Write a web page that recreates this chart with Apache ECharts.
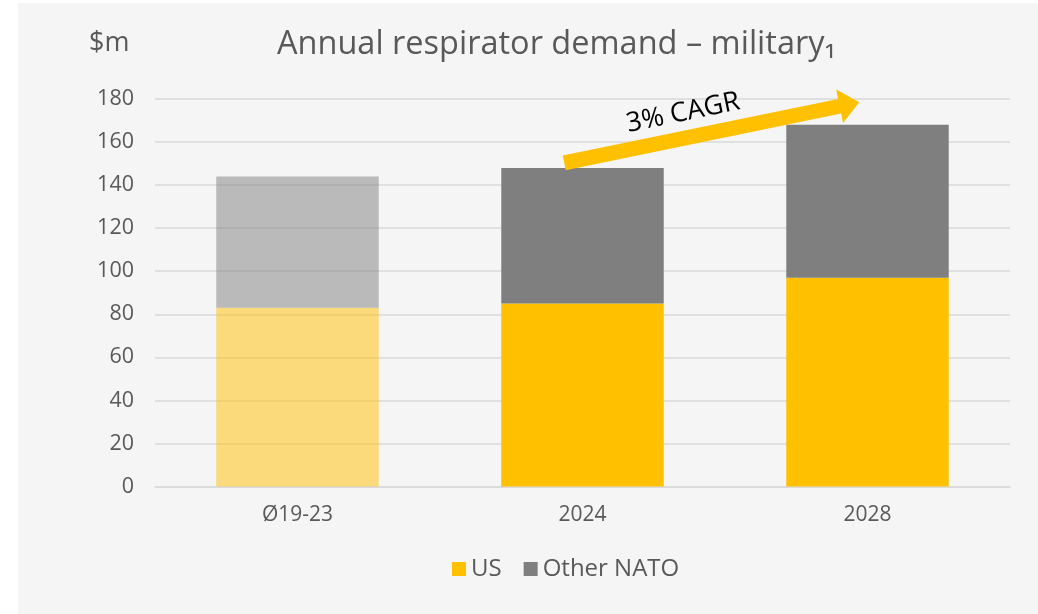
<!DOCTYPE html>
<html>
<head>
<meta charset="utf-8">
<script src="https://cdn.jsdelivr.net/npm/echarts@6/dist/echarts.min.js"></script>
<style>
  html, body { margin: 0; padding: 0; background: #ffffff; }
  #chart { position: absolute; left: 18px; top: 3px; width: 1020px; height: 611px; }
</style>
</head>
<body>
<div id="chart"></div>
<script>
// data
var categories = ['Ø19-23', '2024', '2028'];
var usValues = [83, 85, 97];
var otherNatoValues = [61, 63, 71];
var yTicks = { min: 0, max: 180, interval: 20 };
// CAGR arrow ends: category index, shift in category widths, value
var cagrFrom = [1, -0.064, 150.3];
var cagrTo = [2, -0.029, 178.5];
var cagrLabel = '3% CAGR';

var chart = echarts.init(document.getElementById('chart'), null, { renderer: 'canvas' });
var FONT = 'Open Sans';
var TEXT = '#595959';

// first column is an average, drawn faded
function faded(values, color) {
  return values.map(function (v, i) {
    return i === 0 ? { value: v, itemStyle: { color: color, opacity: 0.5 } } : v;
  });
}

chart.setOption({
  backgroundColor: '#f5f5f5',
  animation: false,
  title: [
    {
      text: 'Annual respirator demand – military\u2081',
      left: 254, top: 20,
      textStyle: { fontFamily: FONT, fontWeight: 'normal', fontSize: 32.5, color: TEXT }
    },
    {
      text: '$m',
      left: 66, top: 22,
      textStyle: { fontFamily: FONT, fontWeight: 'normal', fontSize: 27, color: TEXT }
    }
  ],
  legend: {
    top: 549,
    left: 429,
    itemWidth: 14, itemHeight: 14, itemGap: 22,
    icon: 'rect',
    textStyle: { fontFamily: FONT, fontSize: 24, color: TEXT },
    data: ['US', 'Other NATO']
  },
  grid: { left: 137, right: 28, top: 96, bottom: 127.5 },
  xAxis: {
    type: 'category',
    data: categories,
    axisLine: { lineStyle: { color: '#d9d9d9', width: 1.5 } },
    axisTick: { show: false },
    axisLabel: { fontFamily: FONT, fontSize: 21, color: TEXT, margin: 18 }
  },
  yAxis: {
    type: 'value',
    min: yTicks.min, max: yTicks.max, interval: yTicks.interval,
    axisLine: { show: false },
    axisTick: { show: false },
    splitLine: { lineStyle: { color: '#d9d9d9', width: 1.5 } },
    axisLabel: { fontFamily: FONT, fontSize: 21.5, color: TEXT, margin: 21 }
  },
  series: [
    {
      name: 'US', type: 'bar', stack: 'total',
      barWidth: '57%',
      itemStyle: { color: '#ffc000' },
      data: faded(usValues, '#ffc000')
    },
    {
      name: 'Other NATO', type: 'bar', stack: 'total',
      barWidth: '57%',
      itemStyle: { color: '#7f7f7f' },
      data: faded(otherNatoValues, '#7f7f7f')
    }
  ]
});

// arrow placed through the axes
function drawArrow() {
  function toPx(p) {
    var c0 = chart.convertToPixel({ xAxisIndex: 0 }, p[0]);
    var band = chart.convertToPixel({ xAxisIndex: 0 }, 1) - chart.convertToPixel({ xAxisIndex: 0 }, 0);
    return [c0 + p[1] * band, chart.convertToPixel({ yAxisIndex: 0 }, p[2])];
  }
  var a = toPx(cagrFrom), b = toPx(cagrTo);
  var dx = b[0] - a[0], dy = b[1] - a[1];
  var len = Math.sqrt(dx * dx + dy * dy);
  var ux = dx / len, uy = dy / len;
  var nx = -uy, ny = ux;
  var shaft = 7.5, head = 17, headLen = 20;
  var bx = b[0] - ux * headLen, by = b[1] - uy * headLen;
  var pts = [
    [a[0] + nx * shaft, a[1] + ny * shaft],
    [bx + nx * shaft, by + ny * shaft],
    [bx + nx * head, by + ny * head],
    [b[0], b[1]],
    [bx - nx * head, by - ny * head],
    [bx - nx * shaft, by - ny * shaft],
    [a[0] - nx * shaft, a[1] - ny * shaft]
  ];
  var t = 0.42, off = 25;
  var tx = a[0] + dx * t - nx * off, ty = a[1] + dy * t - ny * off;
  chart.setOption({
    graphic: [
      {
        type: 'polygon', silent: true, z: 10,
        shape: { points: pts },
        style: { fill: '#ffc000' }
      },
      {
        type: 'text', silent: true, z: 10,
        x: tx, y: ty,
        rotation: -Math.atan2(dy, dx),
        style: {
          text: cagrLabel, fontFamily: FONT, fontSize: 27, fill: '#000000',
          align: 'center', verticalAlign: 'middle'
        }
      }
    ]
  });
}
drawArrow();

window.addEventListener('resize', function () { chart.resize(); drawArrow(); });
</script>
</body>
</html>
